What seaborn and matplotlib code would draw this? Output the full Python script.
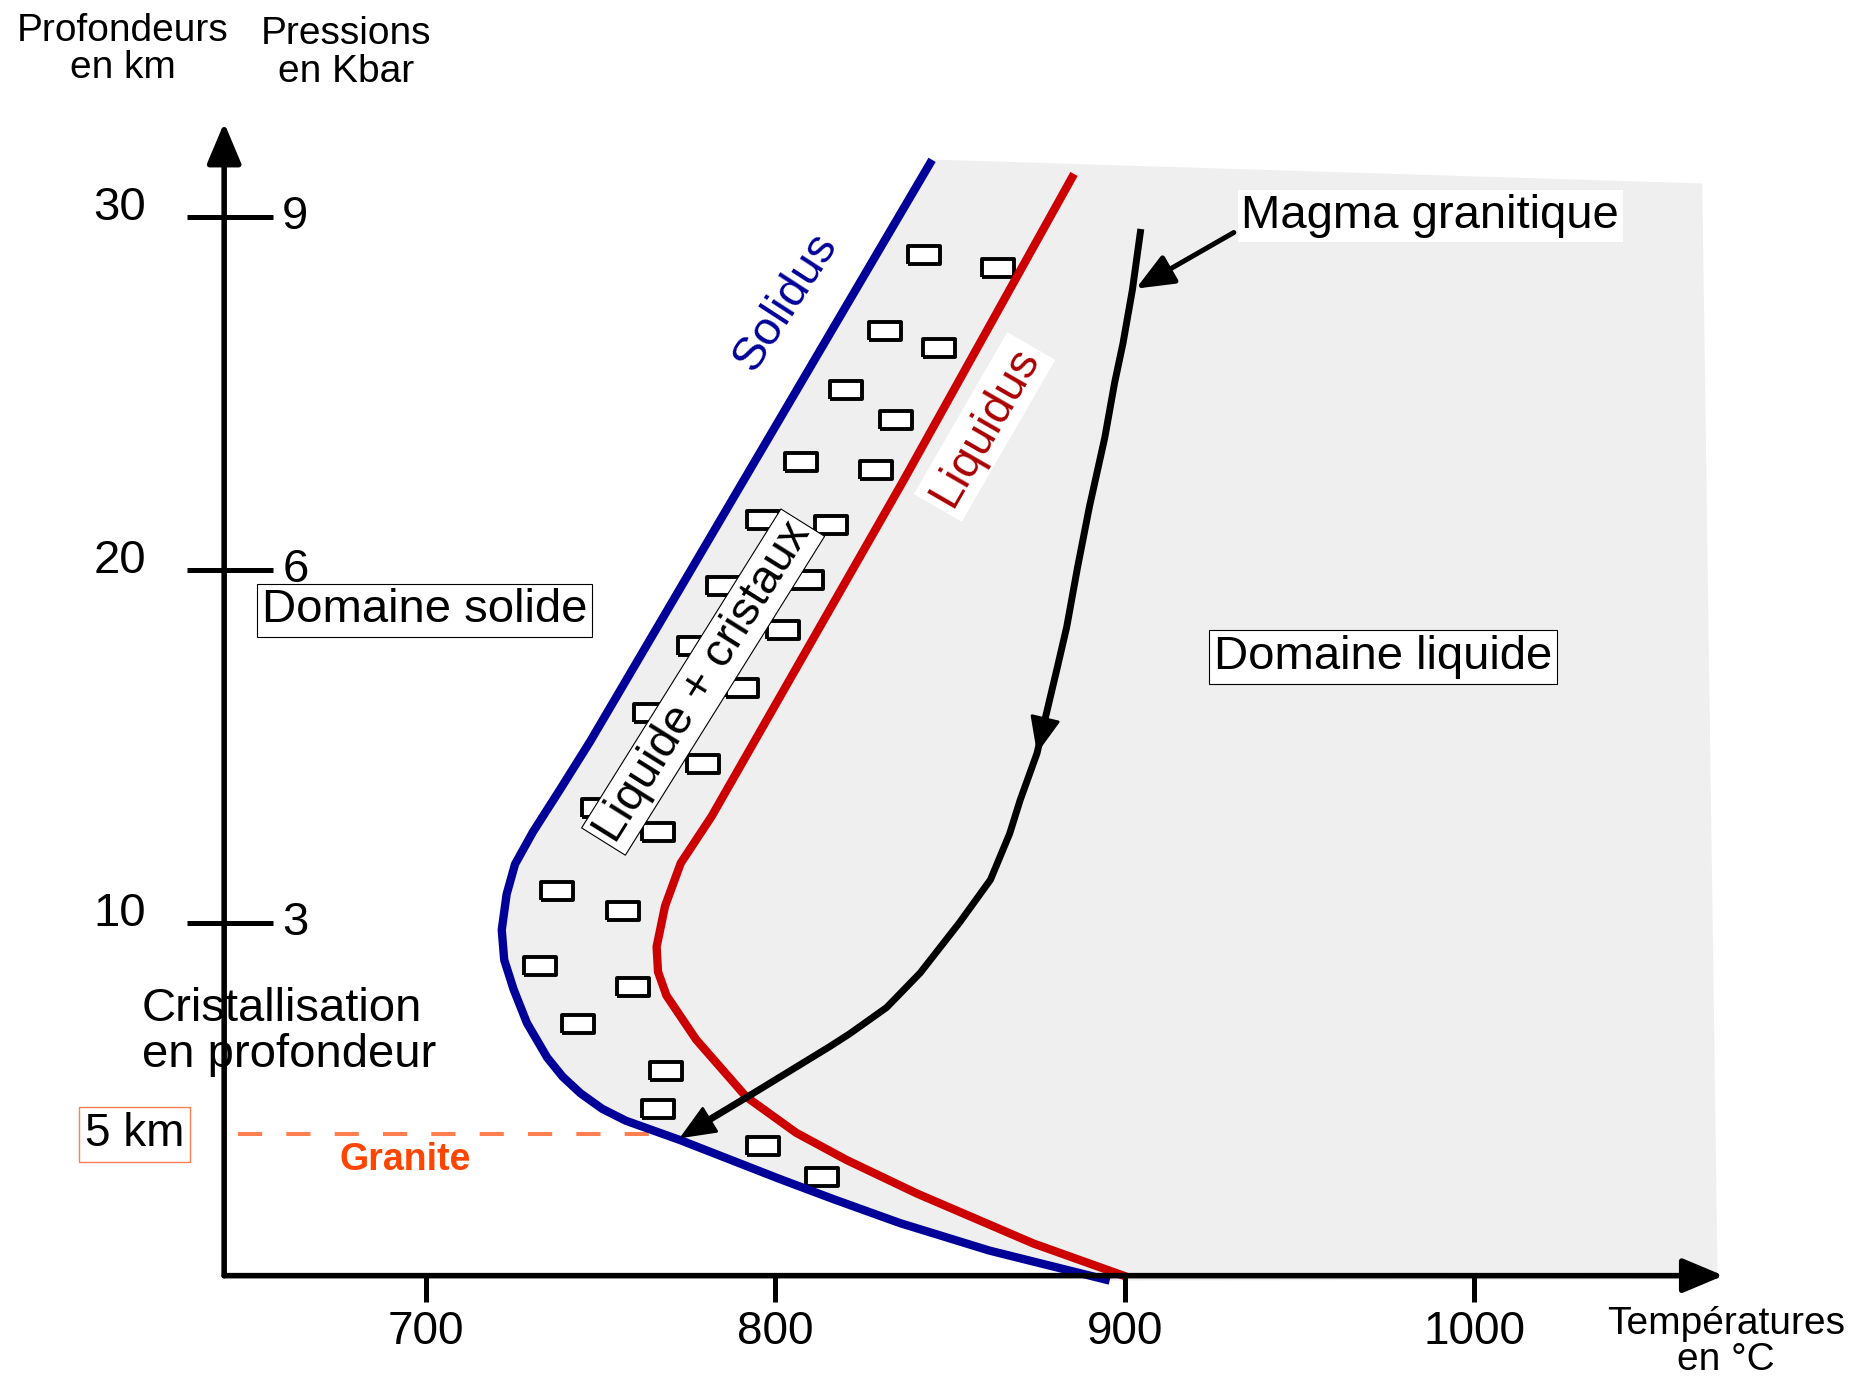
import matplotlib
matplotlib.use("Agg")
import matplotlib.pyplot as plt
import seaborn as sns

# Courbes : température (°C) et profondeur (km)
solidus_T = [844.9, 747.1, 738.5, 730.7, 725.6, 723.2, 721.8, 722.5, 725.2, 729.0,
             734.8, 739.2, 744.3, 750.5, 757.3, 772.6, 801.3, 816.9,
             835.7, 861.3, 895.7]
solidus_z = [31.62, 15.14, 13.78, 12.57, 11.66, 10.81, 9.80, 8.95, 8.11, 7.16,
             6.18, 5.64, 5.17, 4.73, 4.39, 3.85, 2.74, 2.16,
             1.49, 0.71, -0.14]

liquidus_T = [885.5, 836.7, 781.8, 773.0, 768.5, 766.1, 766.5, 768.9, 777.4, 791.7,
              806.0, 820.4, 840.5, 873.9, 900.5]
liquidus_z = [31.22, 22.53, 13.01, 11.69, 10.47, 9.32, 8.61, 7.94, 6.69, 5.07,
              4.05, 3.28, 2.33, 0.91, -0.03]

magma_T = [904.6, 902.2, 899.5, 897.1, 894.3, 889.9, 886.5, 883.4, 880.7, 877.3,
           874.9, 870.1, 867.1, 861.6, 852.7, 841.5, 831.9, 821.4, 815.6, 793.8, 775.0]
magma_z = [29.66, 27.94, 26.42, 25.30, 23.75, 21.79, 20.07, 18.38, 17.23, 15.81,
           14.80, 13.48, 12.53, 11.22, 10.00, 8.58, 7.60, 6.86, 6.49, 5.17, 4.05]

# cristaux dans le domaine liquide + cristaux
cristaux_T = [842.5, 863.7, 831.3, 847.0, 820.4, 834.7, 807.4, 828.9, 796.5, 815.9,
              785.2, 809.1, 802.3, 776.7, 790.4, 764.1, 779.4, 749.4, 766.5, 737.5,
              756.6, 732.7, 759.3, 743.6, 768.9, 766.5, 796.5, 813.5]
cristaux_z = [28.92, 28.55, 26.76, 26.28, 25.10, 24.26, 23.07, 22.84, 21.42, 21.28,
              19.53, 19.70, 18.31, 17.84, 16.66, 15.95, 14.49, 13.24, 12.57, 10.91,
              10.34, 8.78, 8.18, 7.13, 5.81, 4.73, 3.68, 2.80]

x_ticks = [700, 800, 900, 1000]
y_ticks = [30, 20, 10]
pression_labels = ["9", "6", "3"]
profondeur_granite = 4.0

sns.set_theme(style="white")
plt.rcParams['font.family'] = ['Liberation Sans', 'DejaVu Sans']
plt.rcParams['text.color'] = 'black'

fig = plt.figure(figsize=(18.69, 13.77), dpi=100)
ax = fig.add_axes([0, 0, 1, 1])
ax.set_xlim(578.28, 1112.89)
ax.set_ylim(-2.872, 36.149)
ax.axis('off')

# domaine liquide en gris
poly_T = solidus_T + [1069.6, 1065.2, 847.6]
poly_z = solidus_z + [-0.1, 30.95, 31.62]
ax.fill(poly_T, poly_z, color='#efefef', lw=0, zorder=0)

# axes avec flèches
arrow_kw = dict(arrowstyle='-|>,head_length=1.0,head_width=0.42', color='black',
                lw=4, mutation_scale=25, shrinkA=0, shrinkB=0)
ax.annotate('', xy=(642.4, 32.67), xytext=(642.4, 0), arrowprops=arrow_kw, zorder=4)
ax.annotate('', xy=(1071.3, 0), xytext=(642.4, 0), arrowprops=arrow_kw, zorder=4)
ax.vlines(x_ticks, -0.75, 0, color='black', lw=3.6, zorder=4)
ax.hlines(y_ticks, 631.8, 656.4, color='black', lw=3.6, zorder=4)

for t in x_ticks:
    ax.text(t, -1.6, str(t), ha='center', va='center', fontsize=33)
for z, p in zip(y_ticks, pression_labels):
    ax.text(620, z + 0.25, str(z), ha='right', va='center', fontsize=34)
    ax.text(659, z, p, ha='left', va='center', fontsize=34)

ax.text(613.4, 34.75, "Profondeurs\nen km", ha='center', va='center', fontsize=28, linespacing=1.05)
ax.text(677.2, 34.65, "Pressions\nen Kbar", ha='center', va='center', fontsize=28, linespacing=1.05)
ax.text(1072.0, -1.87, "Températures\nen °C", ha='center', va='center', fontsize=28, linespacing=1.0)

# granite
ax.plot([646.5, 764.1], [profondeur_granite, profondeur_granite], color='#ff7f50',
        lw=2.9, dashes=(6, 6), zorder=1)
ax.text(616.8, profondeur_granite, "5 km", ha='center', va='center', fontsize=33,
        bbox=dict(boxstyle='square,pad=0.12', fc='white', ec='#ff7f50', lw=1))
ax.text(694.2, 3.28, "Granite", ha='center', va='center', fontsize=27,
        fontweight='bold', color='#ff4500')

# cristaux
rect = [(-1, -0.52), (1, -0.52), (1, 0.52), (-1, 0.52), (-1, -0.52)]
sns.scatterplot(x=cristaux_T, y=cristaux_z, marker=rect, s=560, color='white',
                edgecolor='black', linewidth=2.8, zorder=2, ax=ax)

# solidus, liquidus, trajet du magma
line_kw = dict(sort=False, estimator=None, zorder=3, ax=ax,
               solid_joinstyle='round', solid_capstyle='butt')
sns.lineplot(x=solidus_T, y=solidus_z, color='#000099', lw=6, **line_kw)
sns.lineplot(x=liquidus_T, y=liquidus_z, color='#cc0000', lw=6, **line_kw)
sns.lineplot(x=magma_T, y=magma_z, color='black', lw=5, **line_kw)

head_kw = dict(arrowstyle='-|>,head_length=1.0,head_width=0.42', color='black',
               lw=2, mutation_scale=23, shrinkA=0, shrinkB=0)
ax.annotate('', xy=(874.9, 14.80), xytext=(877.3, 15.81), arrowprops=head_kw, zorder=3)
ax.annotate('', xy=(772.6, 3.89), xytext=(793.8, 5.17), arrowprops=head_kw, zorder=3)

# étiquettes
ax.annotate('', xy=(903.2, 27.97), xytext=(931.2, 29.56),
            arrowprops=dict(arrowstyle='-|>,head_length=1.0,head_width=0.42', color='black',
                            lw=3.6, mutation_scale=23, shrinkA=0, shrinkB=0), zorder=4)
ax.text(987.4, 30.03, "Magma granitique", ha='center', va='center', fontsize=34,
        bbox=dict(boxstyle='square,pad=0.08', fc='white', ec='none'), zorder=5)
ax.text(699.7, 18.85, "Domaine solide", ha='center', va='center', fontsize=34,
        bbox=dict(boxstyle='square,pad=0.1', fc='white', ec='black', lw=0.8), zorder=5)
ax.text(973.8, 17.53, "Domaine liquide", ha='center', va='center', fontsize=34,
        bbox=dict(boxstyle='square,pad=0.1', fc='white', ec='black', lw=0.8), zorder=5)
ax.text(618.9, 6.9, "Cristallisation\nen profondeur", ha='left', va='center',
        fontsize=34, linespacing=1.05, zorder=5)
ax.text(803.0, 27.6, "Solidus", ha='center', va='center', fontsize=34, color='#000099',
        rotation=57, rotation_mode='anchor', zorder=5)
ax.text(859.9, 24.05, "Liquidus", ha='center', va='center', fontsize=34, color='#aa0000',
        rotation=60, rotation_mode='anchor',
        bbox=dict(boxstyle='square,pad=0.12', fc='white', ec='none'), zorder=5)
ax.text(779.4, 16.82, "Liquide + cristaux", ha='center', va='center', fontsize=34,
        rotation=58, rotation_mode='anchor',
        bbox=dict(boxstyle='square,pad=0.08', fc='white', ec='black', lw=0.8), zorder=5)

fig.savefig("out.png", dpi=100)
